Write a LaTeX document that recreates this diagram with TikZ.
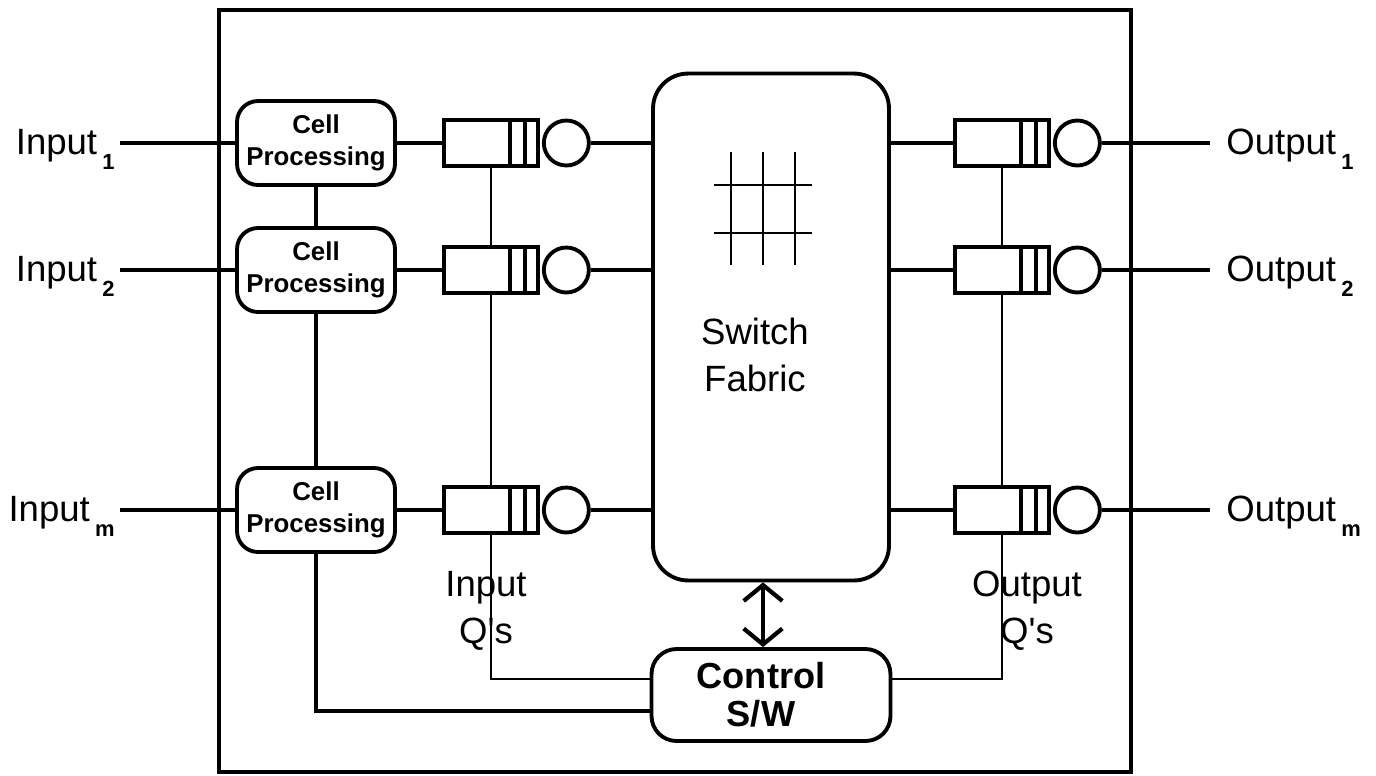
\documentclass[tikz,border=0pt]{standalone}
\usepackage{fontspec}
\setmainfont{Liberation Sans}
\usetikzlibrary{arrows.meta, positioning}

\newcommand{\subfnt}{\fontsize{12.5}{14}\selectfont\bfseries}
\newcommand{\portlbl}[2]{#1\hspace{3pt}\raisebox{-9pt}{\subfnt #2}}

\begin{document}
\begin{tikzpicture}[x=0.02cm, y=-0.02cm,
  wire/.style={line width=2.2pt},
  thinwire/.style={line width=0.6pt},
  cellbox/.style={rectangle, draw, line width=2.2pt, fill=white,
                  rounded corners=0.42cm, minimum width=3.16cm, minimum height=1.68cm,
                  inner sep=0pt, align=center, font=\fontsize{14.7}{18}\selectfont\bfseries},
  qbox/.style={rectangle, draw, line width=2.2pt, fill=white,
               minimum width=1.88cm, minimum height=0.92cm, inner sep=0pt},
  qserver/.style={circle, draw, line width=2.2pt, fill=white,
                  minimum size=0.9cm, inner sep=0pt},
  fabric/.style={rectangle, draw, line width=2.2pt, rounded corners=0.7cm,
                 minimum width=4.72cm, minimum height=10.14cm},
  ctrl/.style={rectangle, draw, line width=2.2pt, rounded corners=0.5cm,
               minimum width=4.78cm, minimum height=1.84cm},
  txt/.style={font=\fontsize{20.8}{26.6}\selectfont, align=center, inner sep=0pt},
  bigtxt/.style={font=\fontsize{20.6}{21.5}\selectfont\bfseries, align=center, inner sep=0pt},
  dbl/.style={{Straight Barb[length=9pt,width=22pt]}-{Straight Barb[length=9pt,width=22pt]},
              line width=2.4pt},
]
\useasboundingbox (0,0) rectangle (1376,775);

%% --- outer frame ---
\draw[wire] (219,10) rectangle (1131,772);

%% --- switch fabric and control ---
\node[fabric] (fab) at (771,327) {};
\node[txt] (fabtxt) at (755,355) {Switch\\Fabric};
\node[ctrl] (ctl) at (771,695) {};
\node[bigtxt] (ctltxt) at (761,695) {Control\\S/W};

% crossbar icon
\foreach \gx in {731,763,795} \draw[line width=1.2pt] (\gx,152) -- (\gx,265);
\foreach \gy in {185,233} \draw[line width=1.2pt] (714,\gy) -- (812,\gy);

%% --- ports, cell processing, queues ---
\foreach \r/\y/\s in {1/143/1, 2/270/2, 3/510/m} {
  \coordinate (in\r) at (120,\y);
  \coordinate (out\r) at (1210,\y);
  \node[txt, anchor=base east] (inl\r) at (115,\y+11) {\portlbl{Input}{\s}};
  \node[txt, anchor=base west] (outl\r) at (1226,\y+11) {\portlbl{Output}{\s}};
  \node[cellbox] (cp\r) at (316,\y) {Cell\\Processing};
  \node[qbox] (iq\r) at (491,\y) {};
  \node[qserver, right=0.04cm of iq\r] (is\r) {};
  \node[qbox] (oq\r) at (1002,\y) {};
  \node[qserver, right=0.04cm of oq\r] (os\r) {};
  \foreach \d in {0.6,0.3} {
    \draw[wire] ([xshift=-\d cm]iq\r.north east) -- ([xshift=-\d cm]iq\r.south east);
    \draw[wire] ([xshift=-\d cm]oq\r.north east) -- ([xshift=-\d cm]oq\r.south east);
  }
  \draw[wire] (in\r) -- (cp\r);
  \draw[wire] (cp\r) -- (iq\r);
  \draw[wire] (is\r.east) -- (is\r -| fab.west);
  \draw[wire] (oq\r -| fab.east) -- (oq\r.west);
  \draw[wire] (os\r.east) -- (out\r);
}

%% --- links to control ---
\draw[wire] (cp1) -- (cp2);
\draw[wire] (cp2) -- (cp3);
\draw[wire] (cp3.south) |- ([yshift=-0.32cm]ctl.west);
\draw[thinwire] (iq1) -- (iq2);
\draw[thinwire] (iq2) -- (iq3);
\draw[thinwire] (iq3.south) |- ([yshift=0.32cm]ctl.west);
\draw[thinwire] (oq1) -- (oq2);
\draw[thinwire] (oq2) -- (oq3);
\draw[thinwire] (oq3.south) |- ([yshift=0.32cm]ctl.east);
\draw[dbl] ([xshift=-0.16cm]fab.south) -- ([xshift=-0.16cm]ctl.north);

\node[txt] (iql) at (486,611) {Input\\Q\textquotesingle s};
\node[txt] (oql) at (1027,611) {Output\\Q\textquotesingle s};
\end{tikzpicture}
\end{document}
